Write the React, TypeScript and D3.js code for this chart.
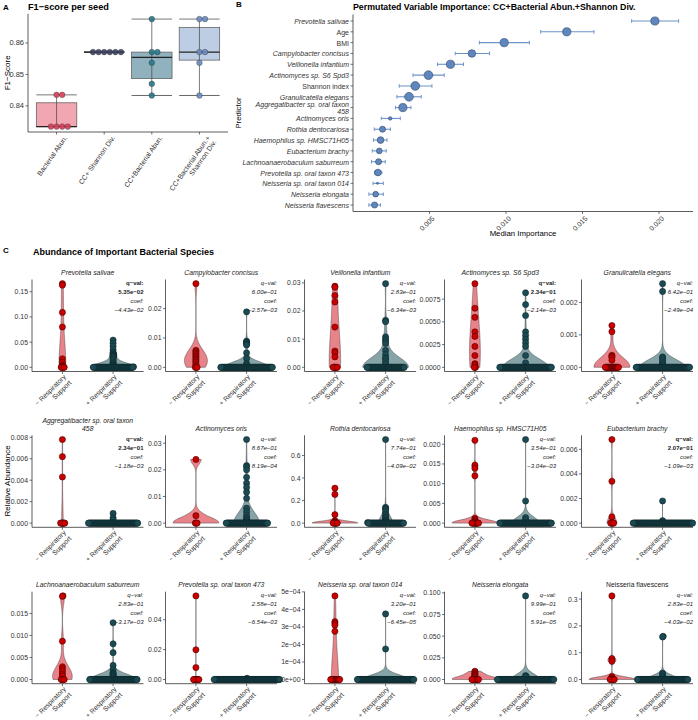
import React from 'react';
import * as d3 from 'd3';

const FONT = '"Liberation Sans", Arial, Helvetica, sans-serif';
const AXIS = '#333';

// ---------- Panel A: F1-score per seed ----------
const modelNames = ['Bacterial Abun.', 'CC+ Shannon Div.', 'CC+Bacterial Abun.', 'CC+Bacterial Abun.+\nShannon Div.'];
const f1Scores = [
  [0.8334, 0.8334, 0.8334, 0.8334, 0.8435, 0.8435],
  [0.8571, 0.8571, 0.8571, 0.8571, 0.8571, 0.8571],
  [0.8433, 0.8470, 0.8537, 0.8571, 0.8571, 0.8676],
  [0.8433, 0.8537, 0.8571, 0.8571, 0.8676, 0.8676],
];
const f1Ticks = [0.84, 0.85, 0.86];
const modelFill = ['#ef97a3', '#3d4265', '#7ca4b3', '#b2c6df'];
const modelDot = ['#d8405a', '#3d4265', '#267a8f', '#6a8cc2'];

// ---------- Panel B: permutation importance ----------
const predictors = [
  'Prevotella salivae', 'Age', 'BMI', 'Campylobacter concisus', 'Veillonella infantium',
  'Actinomyces sp. S6 Spd3', 'Shannon index', 'Granulicatella elegans',
  'Aggregatibacter sp. oral taxon\n458', 'Actinomyces oris', 'Rothia dentocariosa',
  'Haemophilus sp. HMSC71H05', 'Eubacterium brachy', 'Lachnoanaerobaculum saburreum',
  'Prevotella sp. oral taxon 473', 'Neisseria sp. oral taxon 014', 'Neisseria elongata', 'Neisseria flavescens',
];
const uprightPredictors = ['Age', 'BMI', 'Shannon index'];
const impMedian = [0.01973, 0.01397, 0.00988, 0.00777, 0.00637, 0.00493, 0.00407, 0.00366, 0.00326, 0.00243, 0.00193, 0.0018, 0.00172, 0.00167, 0.00163, 0.0016, 0.00148, 0.00141];
const impLow = [0.01821, 0.01227, 0.00826, 0.00668, 0.00552, 0.00392, 0.00302, 0.00287, 0.00278, 0.00185, 0.00139, 0.00134, 0.00126, 0.00121, 0.00141, 0.00131, 0.00104, 0.00104];
const impHigh = [0.02128, 0.01575, 0.01153, 0.00892, 0.00722, 0.00596, 0.00516, 0.00446, 0.00379, 0.00309, 0.00245, 0.00222, 0.00217, 0.00211, 0.00189, 0.00198, 0.00198, 0.0018];
const impWeight = [0.83, 0.83, 0.83, 0.71, 0.83, 0.95, 0.95, 0.95, 0.83, 0.15, 0.46, 0.56, 0.4, 0.46, 0.56, 0.05, 0.4, 0.46];
const impTicks = [0.005, 0.01, 0.015, 0.02];

// ---------- Panel C: abundance per species ----------
const speciesNames = [
  'Prevotella salivae', 'Campylobacter concisus', 'Veillonella infantium', 'Actinomyces sp. S6 Spd3', 'Granulicatella elegans',
  'Aggregatibacter sp. oral taxon\n458', 'Actinomyces oris', 'Rothia dentocariosa', 'Haemophilus sp. HMSC71H05', 'Eubacterium brachy',
  'Lachnoanaerobaculum saburreum', 'Prevotella sp. oral taxon 473', 'Neisseria sp. oral taxon 014', 'Neisseria elongata', 'Neisseria flavescens',
];
const stripItalic = [true, true, true, true, true, true, true, true, true, true, true, true, true, true, false];
const qValues = ['5.35e−02', '6.00e−01', '2.83e−01', '2.34e−01', '6.42e−01', '2.34e−01', '8.67e−01', '7.74e−01', '3.54e−01', '2.07e−01', '2.83e−01', '2.58e−01', '3.20e−01', '9.99e−01', '2.83e−01'];
const coefValues = ['−4.43e−02', '−2.57e−03', '−6.34e−03', '−2.14e−03', '−2.49e−04', '−1.18e−03', '8.19e−04', '−4.09e−02', '−3.04e−03', '−1.09e−03', '−3.17e−03', '−6.54e−03', '−6.45e−05', '5.91e−05', '−4.03e−02'];
const qSignificant = [true, false, false, true, false, true, false, false, false, true, false, false, false, false, false];
const groupLabels = ['− Respiratory\nSupport', '+ Respiratory\nSupport'];

const negNonzero: number[][] = [
  [0.166, 0.163, 0.109, 0.08, 0.017, 0.01, 0.004, 0.002],
  [0.0285, 0.0058, 0.0053, 0.0048, 0.0043, 0.0038, 0.0033, 0.0028, 0.0023, 0.0018, 0.0012, 0.0006],
  [0.0288, 0.0284, 0.0255, 0.0232, 0.0143, 0.0058, 0.0052, 0.0037],
  [0.0092, 0.0065, 0.0055, 0.0039, 0.0034, 0.0023, 0.0013, 0.0004, 0.0003],
  [0.00129, 0.0011, 0.00037, 0.00034, 0.0003, 0.00022],
  [0.0078, 0.0062, 0.0043],
  [0.0239, 0.0028],
  [0.31, 0.255, 0.075, 0.02, 0.01],
  [0.021, 0.0147, 0.0139, 0.012, 0.0012, 0.0008, 0.0005],
  [0.0068, 0.0034, 0.0005],
  [0.019, 0.0189, 0.0087, 0.0029, 0.0024, 0.0018, 0.0012, 0.0008],
  [0.056, 0.0199, 0.008],
  [4.77e-4, 3.3e-4, 3.2e-4, 3.1e-4, 2.75e-4],
  [0.0095, 0.0088, 0.007, 0.0062, 0.005, 0.004, 0.003, 0.002],
  [0.312, 0.078, 0.068, 0.011, 0.006],
];
const negZeros = [6, 4, 8, 3, 23, 8, 4, 8, 12, 6, 6, 10, 16, 12, 8];
const posNonzero: number[][] = [
  [0.054, 0.048, 0.042, 0.035, 0.03, 0.028, 0.026, 0.025, 0.024, 0.023, 0.022, 0.021, 0.019, 0.016, 0.013, 0.01, 0.008, 0.006, 0.004, 0.003, 0.002, 0.001],
  [0.0189, 0.0089, 0.0086, 0.0083, 0.008, 0.0076, 0.0049, 0.003, 0.0013, 0.0008],
  [0.0297, 0.0167, 0.0162, 0.0108, 0.01, 0.0093, 0.0085, 0.006, 0.0045, 0.0033, 0.003, 0.002, 0.0012],
  [0.0082, 0.0069, 0.0057, 0.0039, 0.0035, 0.0031, 0.0027, 0.0023, 0.0013, 0.0005],
  [0.00258, 0.00234, 0.00032, 0.00028, 0.00022, 0.00015, 0.0001, 0.00005],
  [0.0009, 0.0005, 0.0003],
  [0.0314, 0.0216, 0.0211, 0.02, 0.0172, 0.015, 0.0134, 0.0116, 0.0093, 0.0056, 0.0043, 0.003, 0.002, 0.0015, 0.001, 0.0005],
  [0.742, 0.14, 0.13, 0.12, 0.1, 0.08, 0.065, 0.05, 0.04, 0.03, 0.02, 0.015, 0.01, 0.005],
  [0.0212, 0.0056, 0.0014, 0.0008],
  [0.0018, 0.0002],
  [0.0129, 0.0081, 0.0061, 0.0032, 0.0022, 0.0016, 0.0014, 0.0012, 0.001, 0.0008, 0.0006, 0.0004],
  [0.0008, 0.0005],
  [3.74e-4, 1.74e-4],
  [0.0965, 0.0046, 0.0035, 0.003],
  [0.161, 0.159, 0.024, 0.018, 0.012, 0.006],
];
const posZeros = [67, 87, 63, 87, 90, 83, 70, 60, 87, 100, 80, 110, 95, 95, 85];
const yTickStep = [0.05, 0.01, 0.01, 0.0025, 0.001, 0.002, 0.01, 0.2, 0.005, 0.002, 0.005, 0.02, 1e-4, 0.025, 0.1];
const yTickFormat = ['.2f', '.2f', '.2f', '.4f', '.3f', '.3f', '.2f', '.1f', '.3f', '.3f', '.3f', '.2f', 'sci', '.3f', '.1f'];

// layout of the facet grid
const colLeft = [32, 165.5, 304.5, 444.5, 581.5];
const rowTop = [279.5, 435.3, 591.7];
const plotW = 111.5;
const plotH = 92;
const BW_ADJUST = 1.8;

const sciLabel = (v: number) => {
  if (v === 0) return '0e+00';
  const e = Math.floor(Math.log10(v) + 1e-9);
  const m = Math.round(v / Math.pow(10, e));
  return `${m}e${e < 0 ? '−' : '+'}${String(Math.abs(e)).padStart(2, '0')}`;
};

// simple swarm: nearest free slot, alternating right/left
function swarm(ys: number[], s: number): number[] {
  const order = d3.range(ys.length).sort((a, b) => ys[b] - ys[a]);
  const placed: { x: number; y: number }[] = [];
  const out = new Array(ys.length).fill(0);
  for (const i of order) {
    const y = ys[i];
    for (let k = 0; k < 800; k++) {
      const off = k === 0 ? 0 : (k % 2 === 1 ? 1 : -1) * Math.ceil(k / 2) * s;
      const ok = placed.every(p => (p.x - off) ** 2 + (p.y - y) ** 2 >= s * s - 1e-6);
      if (ok) { out[i] = off; placed.push({ x: off, y }); break; }
    }
  }
  return out;
}

// gaussian kde with R's nrd0 bandwidth (times an adjust factor), trimmed to the data range
function kde(values: number[]): [number, number][] {
  const v = values.slice().sort(d3.ascending);
  const n = v.length;
  const sd = d3.deviation(v) ?? 0;
  const iqr = d3.quantileSorted(v, 0.75)! - d3.quantileSorted(v, 0.25)!;
  let lo = Math.min(sd, iqr / 1.34);
  if (!(lo > 0)) lo = sd > 0 ? sd : (Math.abs(v[0]) || 1);
  const h = BW_ADJUST * 0.9 * lo * Math.pow(n, -0.2);
  const a = v[0], b = v[n - 1];
  const c = 1 / (n * h * Math.sqrt(2 * Math.PI));
  return d3.range(0, 241).map(k => {
    const t = a + (b - a) * k / 240;
    return [t, c * d3.sum(v, xi => Math.exp(-0.5 * ((t - xi) / h) ** 2))] as [number, number];
  });
}

function Lines({ text, x, y0, dy, ...rest }: any) {
  return (
    <text x={x} {...rest}>
      {text.split('\n').map((t: string, k: number) => (
        <tspan key={k} x={x} y={y0 + k * dy}>{t}</tspan>
      ))}
    </text>
  );
}

function PanelA() {
  const left = 28, right = 228, top = 13.7, bottom = 132;
  const all = f1Scores.flat();
  const lo = d3.min(all)!, hi = d3.max(all)!, pad = (hi - lo) * 0.05;
  const y = d3.scaleLinear().domain([lo - pad, hi + pad]).range([bottom, top]);
  const x = d3.scaleLinear().domain([0.4, modelNames.length + 0.6]).range([left, right]);
  const boxW = (x(2) - x(1)) * 0.85;
  return (
    <g>
      <text x={3} y={10} fontSize={8} fontWeight="bold">A</text>
      <text x={28} y={10} fontSize={9.2} fontWeight="bold">F1−score per seed</text>
      <text transform={`translate(7,${(top + bottom) / 2}) rotate(-90)`} textAnchor="middle" dominantBaseline="central" fontSize={8}>F1−Score</text>
      {f1Scores.map((vals, i) => {
        const s = vals.slice().sort(d3.ascending);
        const q1 = d3.quantileSorted(s, 0.25)!, med = d3.quantileSorted(s, 0.5)!, q3 = d3.quantileSorted(s, 0.75)!;
        const iqr = q3 - q1;
        const wlo = d3.min(s.filter(v => v >= q1 - 1.5 * iqr))!;
        const whi = d3.max(s.filter(v => v <= q3 + 1.5 * iqr))!;
        const cx = x(i + 1);
        const ys = vals.map(v => y(v));
        const offs = swarm(ys, 5.6);
        return (
          <g key={i}>
            <rect x={cx - boxW / 2} y={y(q3)} width={boxW} height={Math.max(0, y(q1) - y(q3))} fill={modelFill[i]} fillOpacity={0.85} stroke="#555" strokeWidth={0.7} />
            <line x1={cx} x2={cx} y1={y(whi)} y2={y(wlo)} stroke="#444" strokeWidth={0.7} />
            <line x1={cx - boxW / 2} x2={cx + boxW / 2} y1={y(whi)} y2={y(whi)} stroke="#555" strokeWidth={0.8} />
            <line x1={cx - boxW / 2} x2={cx + boxW / 2} y1={y(wlo)} y2={y(wlo)} stroke="#444" strokeWidth={0.8} />
            <line x1={cx - boxW / 2} x2={cx + boxW / 2} y1={y(med)} y2={y(med)} stroke="#222" strokeWidth={1.3} />
            {vals.map((v, k) => (
              <circle key={k} cx={cx + offs[k]} cy={ys[k]} r={2.8} fill={modelDot[i]} stroke="#333" strokeWidth={0.4} fillOpacity={0.9} />
            ))}
            <g transform={`translate(${cx + 7},${bottom + 3}) rotate(-55)`}>
              <Lines text={modelNames[i]} x={0} y0={5} dy={7.5} textAnchor="end" fontSize={7} fill="#333" />
            </g>
          </g>
        );
      })}
      <line x1={left} x2={left} y1={top} y2={bottom} stroke={AXIS} strokeWidth={0.8} />
      <line x1={left} x2={right} y1={bottom} y2={bottom} stroke={AXIS} strokeWidth={0.8} />
      {f1Ticks.map(t => (
        <g key={t}>
          <line x1={left - 2.5} x2={left} y1={y(t)} y2={y(t)} stroke={AXIS} strokeWidth={0.7} />
          <text x={left - 4} y={y(t)} textAnchor="end" dominantBaseline="central" fontSize={7.5} fill="#333">{t.toFixed(2)}</text>
        </g>
      ))}
      {modelNames.map((m, i) => (
        <line key={m} x1={x(i + 1)} x2={x(i + 1)} y1={bottom} y2={bottom + 2.5} stroke={AXIS} strokeWidth={0.7} />
      ))}
    </g>
  );
}

function PanelB() {
  const left = 353, right = 693, top = 14.5, bottom = 211.5;
  const x = d3.scaleLinear().domain([0, 0.02222]).range([left, right]);
  const y = d3.scalePoint<string>().domain(predictors).range([top, bottom]).padding(0.6);
  const r = d3.scaleSqrt().domain([0, 1]).range([0, 4.5]);
  return (
    <g>
      <text x={236} y={7} fontSize={8} fontWeight="bold">B</text>
      <text x={353} y={10} fontSize={8.8} fontWeight="bold">Permutated Variable Importance: CC+Bacterial Abun.+Shannon Div.</text>
      <text transform={`translate(238,${(top + bottom) / 2}) rotate(-90)`} textAnchor="middle" dominantBaseline="central" fontSize={7.8}>Predictor</text>
      <text x={(left + right) / 2} y={233} textAnchor="middle" dominantBaseline="central" fontSize={7.8}>Median Importance</text>
      {predictors.map((p, i) => {
        const cy = y(p)!;
        const lines = p.split('\n');
        return (
          <g key={p}>
            <line x1={x(impLow[i])} x2={x(impHigh[i])} y1={cy} y2={cy} stroke="#6e93c8" strokeWidth={1.1} />
            <line x1={x(impLow[i])} x2={x(impLow[i])} y1={cy - 1.8} y2={cy + 1.8} stroke="#6e93c8" strokeWidth={1} />
            <line x1={x(impHigh[i])} x2={x(impHigh[i])} y1={cy - 1.8} y2={cy + 1.8} stroke="#6e93c8" strokeWidth={1} />
            <circle cx={x(impMedian[i])} cy={cy} r={r(impWeight[i])} fill="#6087bd" stroke="#2c4669" strokeWidth={0.6} />
            <line x1={left - 2.5} x2={left} y1={cy} y2={cy} stroke={AXIS} strokeWidth={0.7} />
            <Lines text={p} x={left - 4} y0={cy - (lines.length - 1) * 3.8} dy={7.6} textAnchor="end" dominantBaseline="central"
              fontSize={7} fill="#333" fontStyle={uprightPredictors.includes(p) ? 'normal' : 'italic'} />
          </g>
        );
      })}
      <line x1={left} x2={left} y1={top} y2={bottom} stroke={AXIS} strokeWidth={0.8} />
      <line x1={left} x2={right} y1={bottom} y2={bottom} stroke={AXIS} strokeWidth={0.8} />
      {impTicks.map(t => (
        <g key={t}>
          <line x1={x(t)} x2={x(t)} y1={bottom} y2={bottom + 2.5} stroke={AXIS} strokeWidth={0.7} />
          <text transform={`translate(${x(t) + 2},${bottom + 4}) rotate(-45)`} textAnchor="end" dy="0.7em" fontSize={7} fill="#333">{d3.format('.3f')(t)}</text>
        </g>
      ))}
    </g>
  );
}

function Facet({ i }: { i: number }) {
  const col = i % 5, row = Math.floor(i / 5);
  const left = colLeft[col], top = rowTop[row];
  const right = left + plotW, bottom = top + plotH;
  const groups = [
    [...negNonzero[i], ...new Array(negZeros[i]).fill(0)],
    [...posNonzero[i], ...new Array(posZeros[i]).fill(0)],
  ];
  const vmax = d3.max(groups.flat())!;
  const y = d3.scaleLinear().domain([-0.05 * vmax, 1.05 * vmax]).range([bottom, top]);
  const x = d3.scaleLinear().domain([0.4, 2.6]).range([left, right]);
  const unit = x(2) - x(1);
  const dens = groups.map(g => kde(g));
  const maxD = d3.max(dens, d => d3.max(d, p => p[1]))!;
  const nTicks = Math.floor((1.05 * vmax) / yTickStep[i] + 1e-6);
  const ticks = d3.range(0, nTicks + 1).map(k => k * yTickStep[i]);
  const fmt = yTickFormat[i] === 'sci' ? sciLabel : d3.format(yTickFormat[i]);
  const titleLines = speciesNames[i].split('\n');
  const violinFill = ['#e8838a', '#86a4a8'];
  const dotFill = ['#c90000', '#1c4a53'];
  const dotStroke = ['#3a0000', '#0a2327'];
  const sig = qSignificant[i];
  const annot = [
    { t: 'q−val:', b: sig }, { t: qValues[i], b: sig },
    { t: 'coef:', b: false }, { t: coefValues[i], b: false },
  ];
  return (
    <g>
      <Lines text={speciesNames[i]} x={(left + right) / 2} y0={top - 7.5 - (titleLines.length - 1) * 7.8} dy={7.8}
        textAnchor="middle" dominantBaseline="central" fontSize={6.8} fill="#222" fontStyle={stripItalic[i] ? 'italic' : 'normal'} />
      {groups.map((g, gi) => {
        const cx = x(gi + 1);
        const area = d3.area<[number, number]>()
          .x0(d => cx - 0.45 * unit * d[1] / maxD)
          .x1(d => cx + 0.45 * unit * d[1] / maxD)
          .y(d => y(d[0]));
        return <path key={gi} d={area(dens[gi])!} fill={violinFill[gi]} stroke="#3a3a3a" strokeWidth={0.45} />;
      })}
      {groups.map((g, gi) => {
        const cx = x(gi + 1);
        const ys = g.map(v => y(v));
        const offs = swarm(ys, 0.6);
        return (
          <g key={gi}>
            {g.map((v, k) => (
              <circle key={k} cx={cx + offs[k]} cy={ys[k]} r={3.1} fill={dotFill[gi]} stroke={dotStroke[gi]} strokeWidth={0.5} />
            ))}
          </g>
        );
      })}
      <line x1={left} x2={left} y1={top} y2={bottom} stroke={AXIS} strokeWidth={0.8} />
      <line x1={left} x2={right} y1={bottom} y2={bottom} stroke={AXIS} strokeWidth={0.8} />
      {ticks.map(t => (
        <g key={t}>
          <line x1={left - 2.5} x2={left} y1={y(t)} y2={y(t)} stroke={AXIS} strokeWidth={0.7} />
          <text x={left - 4} y={y(t)} textAnchor="end" dominantBaseline="central" fontSize={6.9} fill="#333">{fmt(t)}</text>
        </g>
      ))}
      {groupLabels.map((lab, gi) => (
        <g key={lab}>
          <line x1={x(gi + 1)} x2={x(gi + 1)} y1={bottom} y2={bottom + 2.5} stroke={AXIS} strokeWidth={0.7} />
          <g transform={`translate(${x(gi + 1)},${bottom + 2}) rotate(-45)`}>
            <Lines text={lab} x={0} y0={5.5} dy={8} textAnchor="end" fontSize={6.8} fill="#333" />
          </g>
        </g>
      ))}
      {annot.map((a, k) => (
        <text key={k} x={right} y={top + 3.5 + k * 9} textAnchor="end" dominantBaseline="central" fontSize={6}
          fontWeight={a.b ? 'bold' : 'normal'} fontStyle={a.b ? 'normal' : 'italic'} fill="#222">{a.t}</text>
      ))}
    </g>
  );
}

function PanelC() {
  return (
    <g>
      <text x={3} y={253} fontSize={8} fontWeight="bold">C</text>
      <text x={33} y={255} fontSize={9} fontWeight="bold">Abundance of Important Bacterial Species</text>
      <text transform={`translate(7,481) rotate(-90)`} textAnchor="middle" dominantBaseline="central" fontSize={8}>Relative Abundance</text>
      {speciesNames.map((s, i) => <Facet key={s} i={i} />)}
    </g>
  );
}

export default function App() {
  return (
    <svg width={698} height={720} style={{ position: 'absolute', left: 0, top: 0, background: '#fff' }} fontFamily={FONT}>
      <rect width={698} height={720} fill="#fff" />
      <PanelA />
      <PanelB />
      <PanelC />
    </svg>
  );
}
